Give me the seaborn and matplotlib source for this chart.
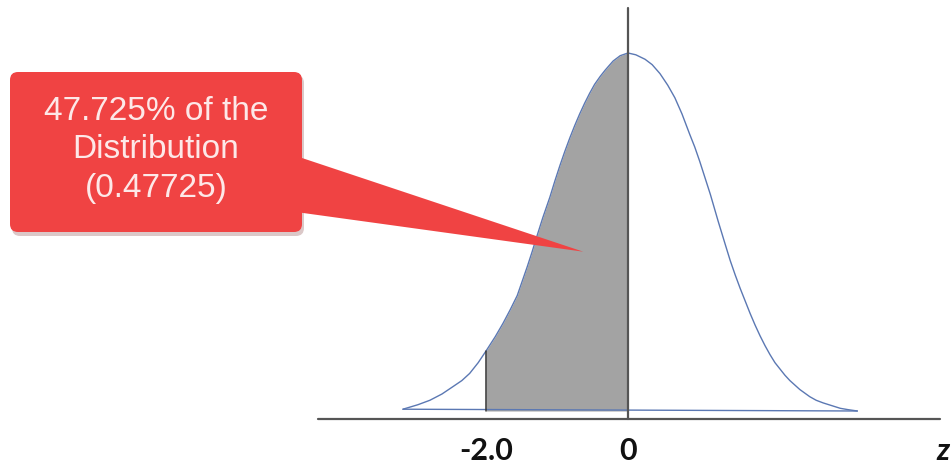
import numpy as np
import pandas as pd
import matplotlib
matplotlib.use("Agg")
import matplotlib.pyplot as plt
from matplotlib.patches import FancyBboxPatch, Polygon
from matplotlib.transforms import Affine2D
import seaborn as sns

# ---- data ----
curve_z = [-3.17, -2.96, -2.79, -2.62, -2.47, -2.34, -2.23, -2.11, -2.0, -1.87,
           -1.76, -1.66, -1.56, -1.49, -1.42, -1.35, -1.28, -1.20, -1.10, -1.03,
           -0.96, -0.89, -0.82, -0.75, -0.68, -0.61, -0.54, -0.47, -0.39, -0.32,
           -0.21, -0.11, 0.0,
           0.11, 0.24, 0.34, 0.45, 0.56, 0.66, 0.76, 0.87, 0.94, 1.01,
           1.16, 1.27, 1.37, 1.44, 1.51, 1.58, 1.65, 1.72, 1.79, 1.86,
           1.93, 2.0, 2.07, 2.14, 2.21, 2.28, 2.35, 2.42, 2.49, 2.56,
           2.65, 2.75, 2.85, 2.99, 3.10, 3.23]
curve_density = [0.002, 0.007, 0.012, 0.019, 0.027, 0.034, 0.042, 0.054, 0.067, 0.083,
                 0.098, 0.113, 0.129, 0.145, 0.161, 0.178, 0.196, 0.216, 0.239, 0.257,
                 0.274, 0.290, 0.305, 0.319, 0.332, 0.344, 0.355, 0.365, 0.374, 0.381,
                 0.391, 0.397, 0.400,
                 0.398, 0.393, 0.387, 0.377, 0.364, 0.350, 0.332, 0.309, 0.295, 0.279,
                 0.242, 0.212, 0.186, 0.168, 0.152, 0.137, 0.123, 0.109, 0.096, 0.084,
                 0.073, 0.063, 0.054, 0.047, 0.040, 0.034, 0.029, 0.024, 0.020, 0.016,
                 0.012, 0.009, 0.0065, 0.003, 0.0015, 0.000]
shade_from = -2.0
shade_to = 0.0
tick_values = [-2.0, 0.0]
tick_labels = ["-2.0", "0"]
axis_label = "z"
callout_lines = ["47.725% of the", "Distribution", "(0.47725)"]
pointer_at = (-0.63, 0.178)

W, H = 952, 465
sns.set_style("white")
fig = plt.figure(figsize=(W / 100, H / 100), dpi=100)
ax = fig.add_axes([0, 0, 1, 1])
ax.axis("off")

# layout: 71 px per z unit, centre at x=628 px, baseline at y=411 px, 895 px per density unit
cx, pxz, base, pxd = 628, 71.0, 411, 895.0
ax.set_xlim(-cx / pxz, (W - cx) / pxz)
ax.set_ylim((base - H) / pxd, base / pxd)

df = pd.DataFrame({"z": curve_z, "density": curve_density})

# shaded area
zz = np.array(curve_z)
dd = np.array(curve_density)
mask = (zz >= shade_from) & (zz <= shade_to)
ax.fill_between(zz[mask], dd[mask], 0, color="#a3a3a3", lw=0, zorder=1)

# curve
sns.lineplot(data=df, x="z", y="density", ax=ax, color="#5b78b3", lw=1.0,
             sort=False, zorder=3)
ax.plot([curve_z[0], curve_z[-1]], [curve_density[0], curve_density[-1]],
        color="#5b78b3", lw=1.0, zorder=3)

# cut line at -2
d_cut = dd[np.argmin(np.abs(zz - shade_from))]
ax.plot([shade_from, shade_from], [0, d_cut], color="#333333", lw=1.1, zorder=4)

# axes lines
y_axis = (base - 419) / pxd
ax.plot([(318 - cx) / pxz, (940 - cx) / pxz], [y_axis, y_axis], color="#555555", lw=1.6, zorder=5)
ax.plot([0, 0], [y_axis, (base - 8) / pxd], color="#555555", lw=1.6, zorder=5)

# tick labels
y_lab = (base - 460) / pxd
for v, t in zip(tick_values, tick_labels):
    ax.text(v, y_lab, t, ha="center", va="baseline", fontsize=22,
            fontweight="bold", family=["Lato", "DejaVu Sans"], color="#111111")
ax.text((936 - cx) / pxz, y_lab, axis_label, ha="left", va="baseline", fontsize=22,
        fontweight="bold", fontstyle="italic", family=["Lato", "DejaVu Sans"], color="#111111")

# callout (pixel coordinates, y downwards)
pix = Affine2D().scale(1 / 100, -1 / 100).translate(0, H / 100) + fig.dpi_scale_trans
tip = pix.inverted().transform(ax.transData.transform(pointer_at))
red = "#f04343"
shadow = FancyBboxPatch((12, 75), 292, 161, boxstyle="round,pad=0,rounding_size=8",
                        transform=pix, fc=(0.45, 0.15, 0.15, 0.25), ec="none", zorder=6)
fig.add_artist(shadow)
box = FancyBboxPatch((10, 72), 292, 160, boxstyle="round,pad=0,rounding_size=8",
                     transform=pix, fc=red, ec="none", zorder=7)
fig.add_artist(box)
wedge = Polygon([(296, 156), (296, 212), (tip[0], tip[1])], closed=True,
                transform=pix, fc=red, ec="none", zorder=7)
fig.add_artist(wedge)
for i, line in enumerate(callout_lines):
    fig.text(156 / W, 1 - (112 + 38 * i) / H, line, ha="center", va="center",
             fontsize=24, family=["Liberation Sans", "DejaVu Sans"], color="#fde8e8",
             zorder=8)

fig.savefig("out.png", dpi=100, facecolor="white")
